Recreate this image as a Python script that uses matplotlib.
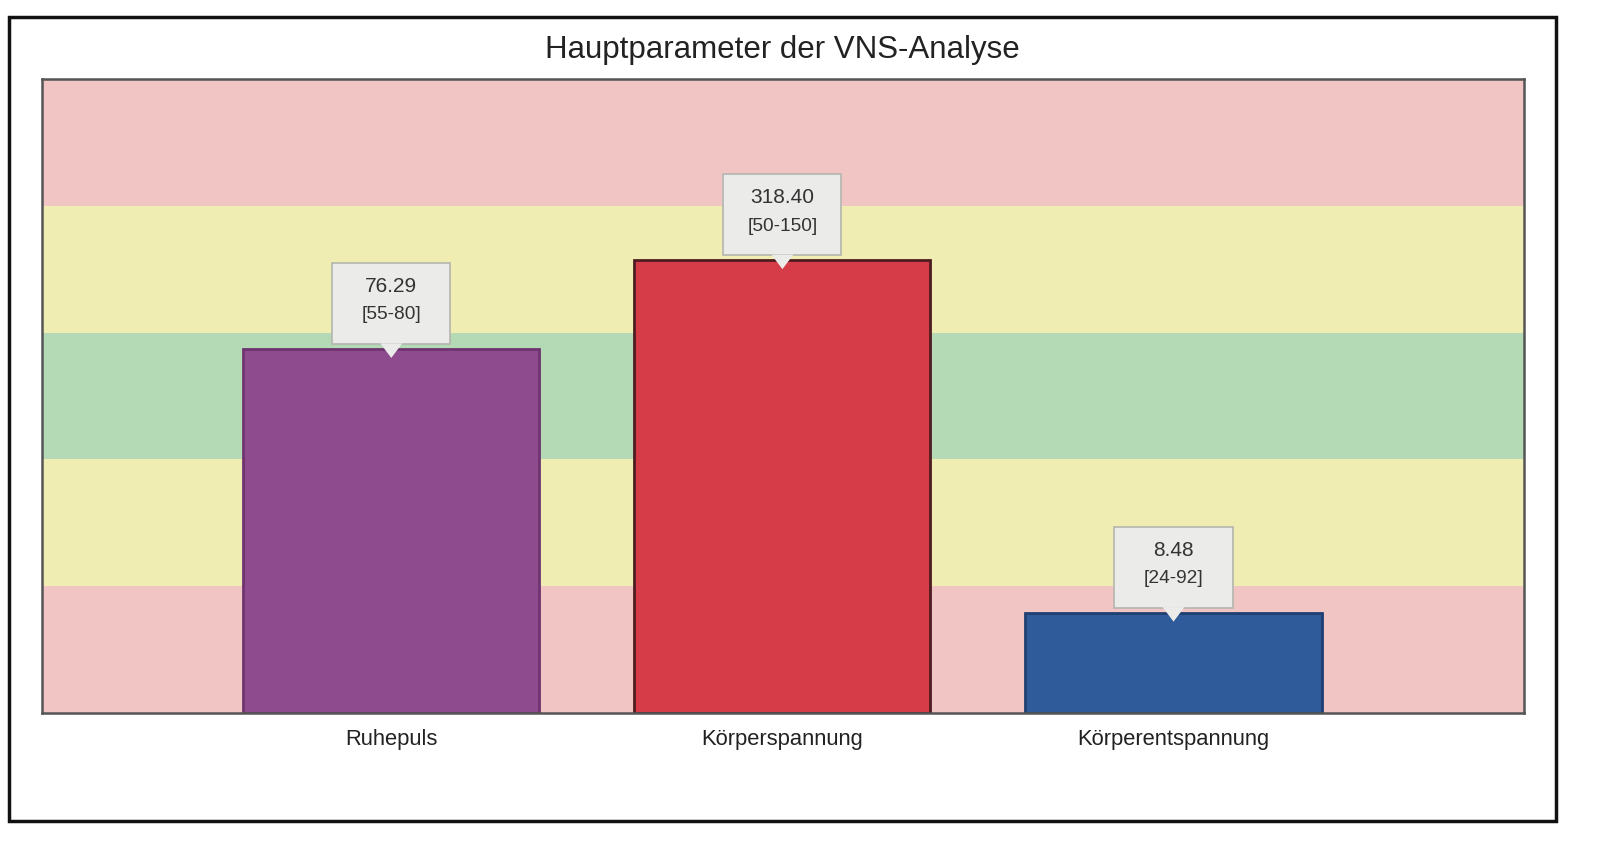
import matplotlib
matplotlib.use("Agg")
import matplotlib.pyplot as plt
from matplotlib.patches import Rectangle, Polygon

plt.rcParams['font.family'] = ['Liberation Sans', 'DejaVu Sans']

# data
categories = ["Ruhepuls", "Körperspannung", "Körperentspannung"]
values = ["76.29", "318.40", "8.48"]
ranges = ["[55-80]", "[50-150]", "[24-92]"]
# bar height on the 5-band scale (0..5)
heights = [2.87, 3.57, 0.79]
bar_colors = ["#8e4b8d", "#d63b48", "#2f5b9b"]
edge_colors = ["#6f3470", "#4d1c20", "#203f70"]
band_colors = ["#f1c5c4", "#efedb1", "#b3d9b5", "#efedb1", "#f1c5c4"]

fig = plt.figure(figsize=(16, 8.54), dpi=100)
ax = fig.add_axes([0.02625, 0.164, 0.926, 0.7423])

# background bands
for i, c in enumerate(band_colors):
    ax.axhspan(i, i + 1, color=c, zorder=0, lw=0)

x = list(range(len(categories)))
ax.bar(x, heights, width=0.757, color=bar_colors, edgecolor=edge_colors,
       linewidth=2, zorder=2)

# value boxes
bw = 0.302
bh = 0.64
for xi, h, v, r in zip(x, heights, values, ranges):
    b0 = h + 0.04
    ax.add_patch(Rectangle((xi - bw / 2, b0), bw, bh, facecolor="#ebebea",
                           edgecolor="#b5b5b0", lw=1.2, zorder=4))
    ax.add_patch(Polygon([[xi - 0.028, b0 + 0.005], [xi + 0.028, b0 + 0.005],
                          [xi, h - 0.07]], closed=True, facecolor="#ebebea",
                         edgecolor="none", zorder=5))
    ax.text(xi, b0 + bh * 0.72, v, ha="center", va="center", fontsize=15,
            color="#333333", zorder=6)
    ax.text(xi, b0 + bh * 0.37, r, ha="center", va="center", fontsize=13.8,
            color="#333333", zorder=6)

ax.set_xlim(-0.893, 2.895)
ax.set_ylim(0, 5)
ax.set_yticks([])
ax.set_xticks(x)
ax.set_xticklabels(categories, fontsize=15.8, color="#222222")
ax.tick_params(axis="x", length=0, pad=11)
for s in ax.spines.values():
    s.set_color("#555555")
    s.set_linewidth(1.8)

fig.text(0.489, 0.9415, "Hauptparameter der VNS-Analyse", ha="center",
         va="center", fontsize=22.5, color="#222222")

# outer frame
fig.patches.append(Rectangle((9 / 1600, 1 - 822 / 854), 1547 / 1600, 804 / 854,
                             transform=fig.transFigure, fill=False,
                             edgecolor="#111111", lw=2.5))

fig.savefig("out.png", dpi=100)
